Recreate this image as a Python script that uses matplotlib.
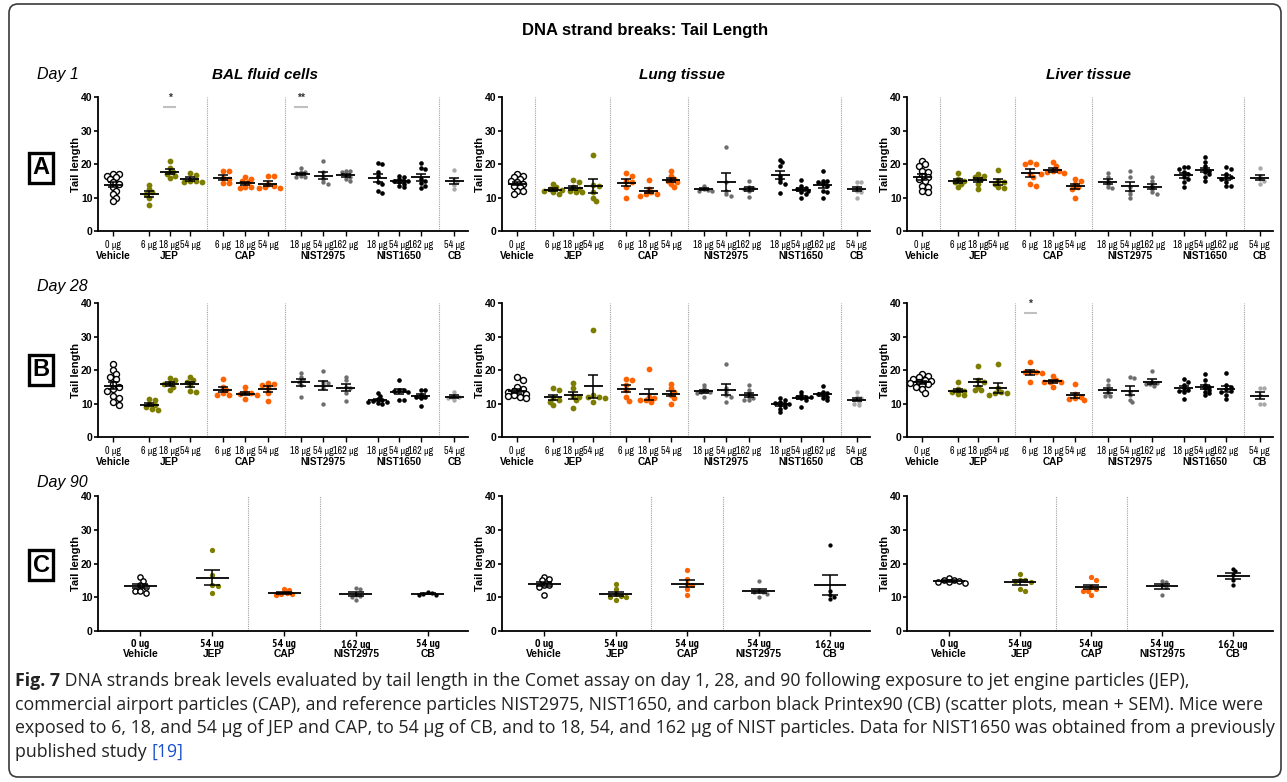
import matplotlib
matplotlib.use("Agg")
import matplotlib.pyplot as plt
from matplotlib import font_manager
from matplotlib.font_manager import FontProperties
from matplotlib.patches import FancyBboxPatch
import numpy as np

names = {f.name for f in font_manager.fontManager.ttflist}
SANS = "Liberation Sans" if "Liberation Sans" in names else "DejaVu Sans"
CAPF = "Open Sans" if "Open Sans" in names else SANS
plt.rcParams["font.family"] = [SANS, "DejaVu Sans"]


def narrow_file(bold):
    # pick a narrow / condensed face if one is installed
    best = None
    for f in font_manager.fontManager.ttflist:
        w = f.weight if isinstance(f.weight, int) else (700 if "bold" in str(f.weight) else 400)
        if f.style != "normal" or (w >= 600) != bold:
            continue
        tag = f.name + " " + str(f.stretch)
        if "Narrow" in tag or "ondensed" in tag:
            rank = 0 if "Liberation" in f.name else (1 if "Narrow" in tag else 2)
            if best is None or rank < best[0]:
                best = (rank, f.fname)
    return best[1] if best else None


NARROW_R = narrow_file(False)
NARROW_B = narrow_file(True)


def nprops(size, bold=False):
    fn = NARROW_B if bold and NARROW_B else NARROW_R
    if fn:
        return FontProperties(fname=fn, size=size)
    return FontProperties(family=SANS, size=size * 0.86,
                          weight="bold" if bold else "normal")


# ---- data (tail length) ----
materials_ab = ["Vehicle", "JEP", "JEP", "JEP", "CAP", "CAP", "CAP",
                "NIST2975", "NIST2975", "NIST2975",
                "NIST1650", "NIST1650", "NIST1650", "CB"]
doses_ab = ["0 μg", "6 μg", "18 μg", "54 μg", "6 μg", "18 μg", "54 μg",
            "18 μg", "54 μg", "162 μg", "18 μg", "54 μg", "162 μg", "54 μg"]

bal_d1 = [
    [17.0, 17.0, 16.5, 16.0, 15.5, 14.5, 14.0, 13.0, 12.0, 11.0, 10.0, 9.0],
    [13.8, 12.5, 11.5, 11.0, 10.0, 7.9],
    [20.8, 18.7, 17.5, 17.0, 16.5, 15.8],
    [17.2, 16.8, 15.0, 14.8, 14.6, 14.5],
    [18.0, 17.8, 15.8, 15.5, 14.2, 14.3],
    [16.0, 15.5, 15.0, 14.5, 13.0, 12.8, 13.2],
    [16.5, 16.5, 14.0, 13.0, 12.8, 12.8, 13.5],
    [18.8, 17.5, 17.5, 17.2, 16.0, 16.0, 16.5],
    [20.8, 17.5, 16.5, 15.5, 14.5, 14.0],
    [18.0, 17.8, 17.5, 16.5, 15.5, 15.0, 16.0],
    [20.3, 20.0, 17.5, 16.5, 14.5, 14.0, 11.8, 11.2],
    [16.5, 16.0, 15.5, 15.0, 15.0, 14.8, 14.5, 14.0, 13.5, 13.0],
    [20.4, 18.8, 18.5, 15.5, 14.8, 14.2, 13.5, 12.7],
    [18.3, 15.2, 14.5, 13.8, 12.5],
]
lung_d1 = [
    [16.5, 17.0, 16.0, 15.5, 15.0, 14.5, 14.0, 13.5, 13.0, 12.0, 11.0, 11.8],
    [14.0, 13.0, 12.5, 12.3, 12.0, 11.5, 11.0],
    [15.2, 14.5, 13.0, 12.5, 12.0, 11.5, 11.5],
    [22.8, 13.8, 13.5, 10.0, 9.0, 11.5],
    [17.3, 16.5, 15.0, 13.0, 10.0, 14.5],
    [15.3, 12.5, 11.5, 11.0, 10.5, 11.0],
    [18.0, 16.5, 15.0, 14.5, 14.0, 13.0, 15.5],
    [13.5, 12.5, 12.3, 12.0, 12.0],
    [25.0, 14.5, 12.0, 11.0, 10.5],
    [15.0, 13.0, 12.8, 12.5, 12.0, 10.2],
    [21.3, 20.5, 19.5, 16.5, 15.5, 14.5, 14.0, 11.3],
    [15.2, 13.5, 12.8, 12.5, 12.0, 11.5, 11.0, 10.0, 12.5],
    [17.8, 15.0, 14.5, 14.0, 13.5, 12.0, 11.5, 10.0, 14.8],
    [14.5, 14.5, 13.0, 12.5, 11.5, 10.0, 12.0],
]
liver_d1 = [
    [21.0, 20.0, 19.5, 18.0, 17.5, 16.5, 16.0, 15.5, 15.0, 13.5, 13.0, 12.0, 11.5],
    [17.3, 15.5, 15.0, 14.0, 13.0, 14.5],
    [17.0, 16.5, 16.0, 15.5, 14.0, 12.5],
    [18.3, 15.0, 14.5, 14.0, 13.0, 12.8],
    [20.0, 20.0, 20.5, 17.0, 16.0, 14.0, 13.5],
    [20.5, 19.5, 18.0, 17.8, 17.5, 17.0, 17.2],
    [15.5, 14.8, 14.0, 13.0, 12.5, 10.0],
    [17.3, 16.0, 15.0, 14.0, 13.0, 12.8],
    [18.0, 16.0, 13.0, 12.0, 11.0, 10.0],
    [16.2, 15.0, 13.5, 12.5, 11.5, 11.0],
    [19.0, 19.0, 18.5, 17.5, 17.0, 16.0, 15.5, 14.5, 13.0],
    [22.0, 20.5, 19.5, 18.5, 18.0, 17.5, 17.0, 16.0, 15.0],
    [19.0, 18.5, 17.0, 16.0, 16.0, 15.5, 14.5, 13.5, 13.5],
    [18.7, 16.5, 15.5, 15.0, 14.0],
]
bal_d28 = [
    [21.7, 20.1, 18.9, 18.0, 17.2, 15.7, 14.9, 14.4, 13.7, 12.1, 11.7, 10.4, 9.7],
    [11.3, 11.0, 10.0, 9.5, 9.0, 8.5, 8.2],
    [17.5, 17.0, 16.0, 15.8, 15.0, 14.0],
    [18.0, 17.0, 16.5, 15.5, 13.8, 13.5],
    [17.2, 15.0, 14.0, 13.0, 12.5, 12.5],
    [14.8, 13.5, 13.0, 12.8, 12.5, 11.2],
    [16.2, 15.8, 15.5, 14.5, 13.0, 10.6],
    [19.2, 17.8, 17.0, 16.5, 15.5, 12.0],
    [19.8, 16.5, 16.0, 15.5, 14.5, 9.8],
    [18.0, 17.0, 15.0, 14.5, 13.0, 10.8],
    [13.2, 12.3, 11.2, 11.0, 10.8, 10.5, 10.2, 10.0, 10.5],
    [17.0, 14.0, 14.0, 13.8, 13.5, 11.0, 11.0],
    [14.0, 14.0, 12.5, 12.0, 12.0, 11.5, 9.3],
    [13.5, 12.5, 12.0, 11.8, 11.5, 11.0],
]
lung_d28 = [
    [17.8, 17.0, 14.8, 14.2, 13.8, 13.5, 13.2, 12.8, 12.5, 12.2, 11.8, 11.5],
    [14.5, 14.0, 11.5, 11.0, 10.5, 9.5],
    [16.0, 14.5, 12.2, 12.0, 11.0, 8.8],
    [32.0, 12.0, 12.0, 11.5, 10.5, 12.5],
    [17.3, 17.0, 15.5, 14.0, 11.8, 10.8],
    [20.3, 12.0, 11.5, 11.0, 11.0, 10.5],
    [15.8, 14.5, 13.5, 12.5, 11.5, 10.0],
    [15.5, 14.5, 13.8, 13.5, 13.5, 13.0, 12.0],
    [21.8, 14.5, 13.5, 12.0, 12.5, 10.5],
    [15.5, 14.0, 12.0, 11.5, 11.0, 11.0, 13.0],
    [11.5, 11.0, 10.5, 10.2, 10.0, 9.5, 9.0, 8.5, 7.5, 10.0],
    [13.5, 12.5, 12.0, 12.0, 11.8, 11.5, 11.0, 9.0],
    [15.2, 13.5, 13.0, 12.8, 12.5, 12.0, 11.5, 11.0],
    [13.5, 11.5, 11.0, 10.5, 10.0, 9.5, 11.8],
]
liver_d28 = [
    [18.8, 18.2, 17.8, 17.3, 17.0, 16.8, 16.5, 16.2, 15.8, 15.5, 15.0, 14.2, 13.2],
    [16.3, 14.2, 13.8, 13.5, 12.8, 12.5],
    [21.2, 17.0, 16.5, 15.0, 14.0, 14.0],
    [21.8, 14.5, 13.5, 13.0, 12.5, 13.0],
    [22.3, 19.5, 19.5, 19.0, 16.5, 19.5],
    [18.2, 17.0, 16.5, 16.3, 15.0, 16.5],
    [15.8, 12.8, 12.0, 11.5, 11.0, 11.3],
    [17.0, 15.5, 14.0, 13.0, 12.2, 12.2],
    [17.8, 17.5, 13.5, 12.5, 11.0, 10.3],
    [19.8, 16.5, 16.0, 15.8, 15.2, 15.7],
    [17.2, 16.5, 15.5, 14.5, 14.0, 13.8, 13.5, 11.2],
    [18.8, 17.0, 15.5, 15.0, 14.5, 14.0, 13.5, 13.0, 12.5],
    [19.2, 15.5, 14.8, 14.2, 13.8, 13.5, 12.5, 11.2],
    [14.5, 14.5, 12.5, 10.0, 10.0],
]

materials_c = ["Vehicle", "JEP", "CAP", "NIST2975", "CB"]
doses_c_bal = ["0 ug", "54 ug", "54 ug", "162 ug", "54 ug"]
doses_c_tissue = ["0 ug", "54 ug", "54 ug", "54 ug", "162 ug"]
bal_d90 = [
    [15.9, 14.9, 13.6, 13.0, 11.4, 11.9, 12.0],
    [24.0, 16.5, 13.5, 13.3, 11.3],
    [12.2, 12.3, 11.2, 10.9, 10.8, 10.9],
    [12.7, 12.5, 10.8, 10.5, 10.2, 9.2],
    [11.5, 11.2, 11.0, 10.8, 10.8],
]
lung_d90 = [
    [16.0, 15.5, 15.0, 13.5, 13.5, 13.0, 10.8],
    [13.8, 12.3, 11.0, 10.5, 10.2, 10.0, 9.2],
    [18.0, 15.5, 14.0, 13.5, 12.5, 10.6],
    [14.9, 11.8, 11.5, 11.5, 11.0, 10.2],
    [25.5, 12.0, 10.7, 10.2, 9.6],
]
liver_d90 = [
    [15.8, 15.2, 15.0, 14.8, 14.5, 14.2, 14.5],
    [17.0, 15.0, 14.8, 14.5, 12.3, 12.0, 15.0],
    [16.0, 15.2, 13.0, 12.5, 12.0, 11.8, 10.7],
    [14.8, 14.5, 13.5, 13.0, 10.7],
    [18.5, 17.8, 16.5, 15.0, 13.5],
]

# ---- style / layout ----
W, H = 1287, 782
OLIVE, ORANGE, GRAY, LGRAY = "#7d7d00", "#ff6200", "#6e6e6e", "#a9a9a9"
colors_ab = {"Vehicle": "white", "JEP": OLIVE, "CAP": ORANGE,
             "NIST2975": GRAY, "NIST1650": "black", "CB": LGRAY}
size_ab = {"Vehicle": 6.0, "JEP": 5.8, "CAP": 5.8, "NIST2975": 4.4,
           "NIST1650": 4.6, "CB": 4.4}
colors_c = ["white", OLIVE, ORANGE, GRAY, "black"]
size_c = [5.3, 5.3, 5.3, 4.3, 4.3]

pos_ab = [0, 1.6, 2.5, 3.4, 4.85, 5.85, 6.85, 8.3, 9.3, 10.3, 11.7, 12.65, 13.6, 15.1]
pos_c = [0, 1, 2, 3, 4]
XPX_AB, XPX_C = 22.5, 71.5
ROWS = [(97, 231), (303, 437), (496, 631)]
COLS = [(98, 468), (502, 870), (907, 1273)]
YPX = 134 / 40.0

fig = plt.figure(figsize=(W / 100, H / 100), dpi=100)
ov = fig.add_axes([0, 0, 1, 1])
ov.set_xlim(0, W)
ov.set_ylim(H, 0)
ov.axis("off")


def px_axes(x0, x1, y0, y1):
    ax = fig.add_axes([x0 / W, 1 - y1 / H, (x1 - x0) / W, (y1 - y0) / H])
    ax.set_facecolor("none")
    return ax


def swarm(vals, d, xpx):
    vals = np.asarray(vals, float)
    offs = np.zeros(len(vals))
    placed = []
    steps = [0.0]
    for k in range(1, 30):
        steps += [0.5 * k, -0.5 * k]
    for i in np.argsort(-vals, kind="stable"):
        y = vals[i] * YPX
        for st in steps:
            x = st * d
            if all((x - a) ** 2 + (y - b) ** 2 >= (0.72 * d) ** 2 for a, b in placed):
                break
        placed.append((x, y))
        offs[i] = x / xpx
    return offs


def draw_group(ax, x, vals, color, diam, xpx, hw, cap):
    vals = np.asarray(vals, float)
    offs = swarm(vals, diam, xpx)
    ms = diam * 0.72
    if color == "white":
        ax.scatter(x + offs, vals, s=ms ** 2, facecolors="white",
                   edgecolors="black", linewidths=1.0, zorder=3)
    else:
        ax.scatter(x + offs, vals, s=ms ** 2, c=color, linewidths=0, zorder=3)
    m = vals.mean()
    sem = vals.std(ddof=1) / np.sqrt(len(vals))
    ax.hlines(m, x - hw, x + hw, colors="black", lw=1.3, zorder=4)
    ax.errorbar(x, m, yerr=sem, fmt="none", ecolor="black", elinewidth=1.1,
                capsize=cap, capthick=1.1, zorder=4)


def style_axes(ax):
    ax.set_ylim(0, 40)
    ax.set_yticks([0, 10, 20, 30, 40])
    ax.spines[["top", "right"]].set_visible(False)
    ax.spines[["left", "bottom"]].set_linewidth(1.3)
    ax.tick_params(axis="y", labelsize=7.5, width=1.2, length=3, pad=1)
    ax.tick_params(axis="x", width=1.0, length=3.5, pad=3)
    for lab in ax.get_yticklabels():
        lab.set_fontweight("bold")
    ax.set_ylabel("Tail length", fontsize=8, fontweight="bold")
    ax.yaxis.set_label_coords(-17 / 368, 0.5)


def divider(ax, xs):
    ax.vlines(xs, 0, 40, colors="#a0a0a0", linestyles=(0, (1, 1)), lw=0.8, zorder=1)


ab_sets = [[bal_d1, lung_d1, liver_d1], [bal_d28, lung_d28, liver_d28]]
sig_marks = {(0, 0): [(2, "*"), (7, "**")], (1, 2): [(4, "*")]}

for r, sets in enumerate(ab_sets):
    y0, y1 = ROWS[r]
    for c, data in enumerate(sets):
        ax = px_axes(COLS[c][0], COLS[c][1], y0, y1)
        style_axes(ax)
        ax.set_xlim(-0.67, 15.7)
        divs = [4.15, 7.6, 14.4]
        if r == 0 and c > 0:
            divs = [0.8] + divs
        divider(ax, divs)
        for i, vals in enumerate(data):
            mat = materials_ab[i]
            draw_group(ax, pos_ab[i], vals, colors_ab[mat], size_ab[mat],
                       XPX_AB, 0.42, 3.6)
        ax.set_xticks(pos_ab, doses_ab, fontproperties=nprops(7.2))
        seen = []
        for mat in materials_ab:
            if mat in seen:
                continue
            seen.append(mat)
            xs = [p for p, m in zip(pos_ab, materials_ab) if m == mat]
            ax.text(np.mean(xs), -25 / 134, mat, transform=ax.get_xaxis_transform(),
                    ha="center", va="center", fontsize=7.2, fontweight="bold")
        for idx, txt in sig_marks.get((r, c), []):
            ax.hlines(37.0, pos_ab[idx] - 0.3, pos_ab[idx] + 0.3, colors="#c0c0c0", lw=1.5)
            ax.text(pos_ab[idx], 38.2, txt, ha="center", va="bottom", fontsize=7.5,
                    fontweight="bold", color="#333333")

c_sets = [(bal_d90, doses_c_bal), (lung_d90, doses_c_tissue), (liver_d90, doses_c_tissue)]
y0, y1 = ROWS[2]
for c, (data, doses) in enumerate(c_sets):
    ax = px_axes(COLS[c][0], COLS[c][1], y0, y1)
    style_axes(ax)
    ax.set_xlim(-0.59, 4.56)
    divider(ax, [1.5, 2.5])
    for i, vals in enumerate(data):
        draw_group(ax, pos_c[i], vals, colors_c[i], size_c[i], XPX_C, 0.23, 5.5)
    ax.set_xticks(pos_c, doses, fontproperties=nprops(8.4, bold=True))
    ax.tick_params(axis="x", pad=2.5)
    for i, mat in enumerate(materials_c):
        ax.text(pos_c[i], -23 / 135, mat, transform=ax.get_xaxis_transform(),
                ha="center", va="center", fontsize=7.4, fontweight="bold")

# ---- titles, labels, frame ----
ov.add_patch(FancyBboxPatch((9, 4), 1272, 773, boxstyle="round,pad=0,rounding_size=9",
                            fill=False, lw=1.2, ec="#3a3a3a"))
ov.text(645, 31, "DNA strand breaks: Tail Length", ha="center", va="center",
        fontsize=12, fontweight="bold")
for x, t in [(265, "BAL fluid cells"), (682, "Lung tissue"), (1089, "Liver tissue")]:
    ov.text(x, 75, t, ha="center", va="center", fontsize=11, fontweight="bold",
            style="italic")
for y, t in [(75, "Day 1"), (287, "Day 28"), (482, "Day 90")]:
    ov.text(37, y, t, ha="left", va="center", fontsize=11.5, style="italic")
for y, t in [(168, "A"), (370, "B"), (565, "C")]:
    ov.text(41, y, t, ha="center", va="center", fontsize=17, fontweight="bold",
            bbox=dict(boxstyle="square,pad=0.14", fc="white", ec="black", lw=2.4))

cap_lines = [
    " DNA strands break levels evaluated by tail length in the Comet assay on day 1, 28, "
    "and 90 following exposure to jet engine particles (JEP),",
    "commercial airport particles (CAP), and reference particles NIST2975, NIST1650, and "
    "carbon black Printex90 (CB) (scatter plots, mean + SEM). Mice were",
    "exposed to 6, 18, and 54 μg of JEP and CAP, to 54 μg of CB, and to 18, 54, and 162 μg "
    "of NIST particles. Data for NIST1650 was obtained from a previously",
    "published study ",
]
cap_y = [681, 705, 728, 752]
CAP_FS = 12
ck = dict(family=CAPF, fontsize=CAP_FS, color="#222222")
t0 = ov.text(15, cap_y[0], "Fig. 7", ha="left", va="center", fontweight="bold", **ck)
t1 = ov.annotate(cap_lines[0], xy=(1, 0), xycoords=t0, ha="left", va="bottom", **ck)
t2 = ov.text(15, cap_y[1], cap_lines[1], ha="left", va="center", **ck)
t2b = ov.text(15, cap_y[2], cap_lines[2], ha="left", va="center", **ck)
t3 = ov.text(15, cap_y[3], cap_lines[3], ha="left", va="center", **ck)
t4 = ov.annotate("[19]", xy=(1, 0), xycoords=t3, ha="left", va="bottom",
                 family=CAPF, fontsize=CAP_FS, color="#1a4fd0")
cap_texts = [t0, t1, t2, t2b, t3, t4]

# fit the widest caption line to the frame width
rend = fig.canvas.get_renderer()
right = max(t.get_window_extent(rend).x1 for t in [t1, t2, t2b])
scale = (1270 - 15) / (right - 15)
for t in cap_texts:
    t.set_fontsize(CAP_FS * scale)

fig.savefig("out.png", dpi=100)
